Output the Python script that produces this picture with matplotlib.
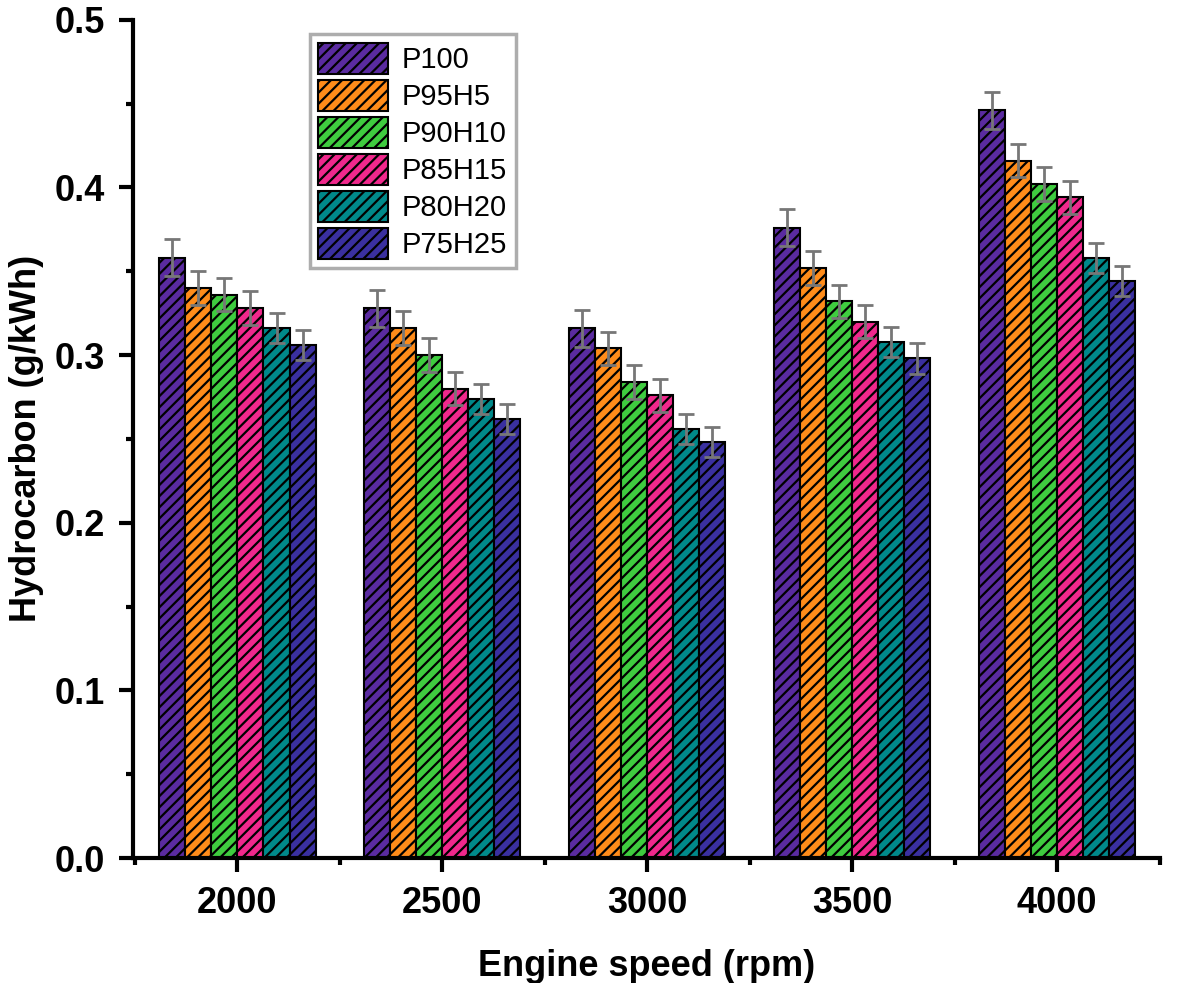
import numpy as np
import matplotlib
matplotlib.use('Agg')
import matplotlib.pyplot as plt
from matplotlib.ticker import MultipleLocator, FormatStrFormatter

plt.rcParams['font.family'] = ['Liberation Sans', 'DejaVu Sans']
plt.rcParams['hatch.linewidth'] = 1.6

# data
speeds = ['2000', '2500', '3000', '3500', '4000']
fuels = ['P100', 'P95H5', 'P90H10', 'P85H15', 'P80H20', 'P75H25']
p100 = [0.358, 0.328, 0.316, 0.376, 0.446]
p95h5 = [0.340, 0.316, 0.304, 0.352, 0.416]
p90h10 = [0.336, 0.300, 0.284, 0.332, 0.402]
p85h15 = [0.328, 0.280, 0.276, 0.320, 0.394]
p80h20 = [0.316, 0.274, 0.256, 0.308, 0.358]
p75h25 = [0.306, 0.262, 0.248, 0.298, 0.344]
err = [0.011, 0.010, 0.010, 0.010, 0.009, 0.009]
colors = ['#5a2ba0', '#ff8c1a', '#3fcc3f', '#f0288c', '#00898a', '#3a30a0']

series = [p100, p95h5, p90h10, p85h15, p80h20, p75h25]

fig = plt.figure(figsize=(11.82, 9.83), dpi=100)
ax = fig.add_axes([0.1125, 0.127, 0.8685, 0.853])

x = np.arange(len(speeds))
w = 0.127
for i, (vals, name) in enumerate(zip(series, fuels)):
    pos = x + (i - 2.5) * w
    ax.bar(pos, vals, w, color=colors[i], edgecolor='black', linewidth=1.5,
           hatch='///', label=name, zorder=2)
    ax.errorbar(pos, vals, yerr=err[i], fmt='none', ecolor='#777777',
                elinewidth=2, capsize=5.5, capthick=2, zorder=3)

ax.set_xlim(-0.51, 4.5)
ax.set_ylim(0, 0.5)
ax.set_xticks(x)
ax.set_xticklabels(speeds)
ax.xaxis.set_minor_locator(MultipleLocator(0.5))
ax.yaxis.set_major_locator(MultipleLocator(0.1))
ax.yaxis.set_minor_locator(MultipleLocator(0.05))
ax.yaxis.set_major_formatter(FormatStrFormatter('%.1f'))

for s in ['top', 'right']:
    ax.spines[s].set_visible(False)
for s in ['left', 'bottom']:
    ax.spines[s].set_linewidth(3)

ax.tick_params(which='major', length=10, width=3, labelsize=26, pad=10)
ax.tick_params(which='minor', length=5, width=3)
for lab in ax.get_xticklabels() + ax.get_yticklabels():
    lab.set_fontweight('bold')

ax.set_xlabel('Engine speed (rpm)', fontsize=26, fontweight='bold', labelpad=20)
ax.set_ylabel('Hydrocarbon (g/kWh)', fontsize=26, fontweight='bold', labelpad=8)

leg = ax.legend(loc='upper left', bbox_to_anchor=(0.172, 0.983), fontsize=21,
                fancybox=False, edgecolor='#999999', handlelength=2.4,
                handleheight=1.25, labelspacing=0.2, handletextpad=0.45,
                borderpad=0.3, borderaxespad=0)
leg.get_frame().set_linewidth(2.5)

fig.savefig('out.png', dpi=100)
